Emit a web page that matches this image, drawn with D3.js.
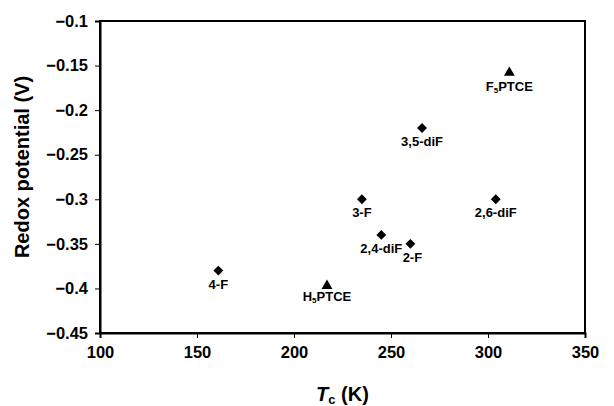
<!DOCTYPE html>
<html>
<head>
<meta charset="utf-8">
<script src="https://cdn.jsdelivr.net/npm/d3@7"></script>
<style>
body { margin: 0; background: #fff; }
text { font-family: Arial, "Liberation Sans", sans-serif; font-weight: 700; }
</style>
</head>
<body>
<div id="chart"></div>
<script>
// compounds, Tc (K), redox potential (V)
const names = ["4-F", "H5PTCE", "3-F", "2,4-diF", "2-F", "3,5-diF", "2,6-diF", "F5PTCE"]
const tc = [161, 217, 235, 245, 260, 266, 304, 311]
const redox = [-0.38, -0.397, -0.30, -0.34, -0.35, -0.22, -0.30, -0.158]
const shapes = ["diamond", "triangle", "diamond", "diamond", "diamond", "diamond", "diamond", "triangle"]
const xTicks = [100, 150, 200, 250, 300, 350]
const yTicks = [-0.1, -0.15, -0.2, -0.25, -0.3, -0.35, -0.4, -0.45]

let margin = {top: 21, right: 29, bottom: 73, left: 100}
let W = 614, H = 406
let pxX = W - margin.left - margin.right,
    pxY = H - margin.top - margin.bottom

let svg = d3.select("#chart").append("svg")
    .attr("width", W).attr("height", H)
let g = svg.append("g").attr("transform", `translate(${margin.left},${margin.top})`)

let scX = d3.scaleLinear().domain([100, 350]).range([0, pxX])
let scY = d3.scaleLinear().domain([-0.45, -0.1]).range([pxY, 0])

// frame
g.append("rect").attr("width", pxX).attr("height", pxY)
    .attr("fill", "none").attr("stroke", "#000").attr("stroke-width", 2)

let xAxis = g.append("g").attr("transform", `translate(0,${pxY})`)
    .call(d3.axisBottom(scX).tickValues(xTicks).tickSize(5).tickPadding(8).tickFormat(d3.format("d")))
let yAxis = g.append("g")
    .call(d3.axisLeft(scY).tickValues(yTicks).tickSize(5).tickPadding(7).tickFormat(d3.format("~g")))
;[xAxis, yAxis].forEach(a => {
    a.attr("font-family", null).attr("font-size", null)
    a.select(".domain").attr("stroke-width", 2)
    a.selectAll(".tick line").attr("stroke-width", 1)
    a.selectAll("text").attr("font-size", 16.5).attr("fill", "#000")
})

// markers
let sym = {diamond: d3.symbol().type(d3.symbolDiamond2).size(62),
           triangle: d3.symbol().type(d3.symbolTriangle2).size(85)}
names.forEach((n, i) => {
    let x = scX(tc[i]), y = scY(redox[i])
    g.append("path").attr("d", sym[shapes[i]]())
        .attr("transform", `translate(${x},${y})`)
        .attr("fill", "#000")
    let dx = n === "2-F" ? 2 : 0
    let dy = n === "H5PTCE" ? 15 : 18
    let t = g.append("text").attr("x", x + dx).attr("y", y + dy)
        .attr("text-anchor", "middle").attr("font-size", 13)
    let m = n.match(/^([HF])5(.*)$/)
    if (m) {
        t.append("tspan").text(m[1])
        t.append("tspan").text("5").attr("font-size", 8).attr("dy", 2)
        t.append("tspan").text(m[2]).attr("dy", -2)
    } else {
        t.text(n)
    }
})

// axis titles
let xt = svg.append("text").attr("x", margin.left + pxX / 2).attr("y", 401)
    .attr("text-anchor", "middle").attr("font-size", 20)
xt.append("tspan").text("T").style("font-style", "italic")
xt.append("tspan").text("c").attr("font-size", 13).attr("dy", 3)
xt.append("tspan").text(" (K)").attr("dy", -3)

svg.append("text")
    .attr("transform", `translate(29,167) rotate(-90)`)
    .attr("text-anchor", "middle").attr("font-size", 20)
    .text("Redox potential (V)")
</script>
</body>
</html>
